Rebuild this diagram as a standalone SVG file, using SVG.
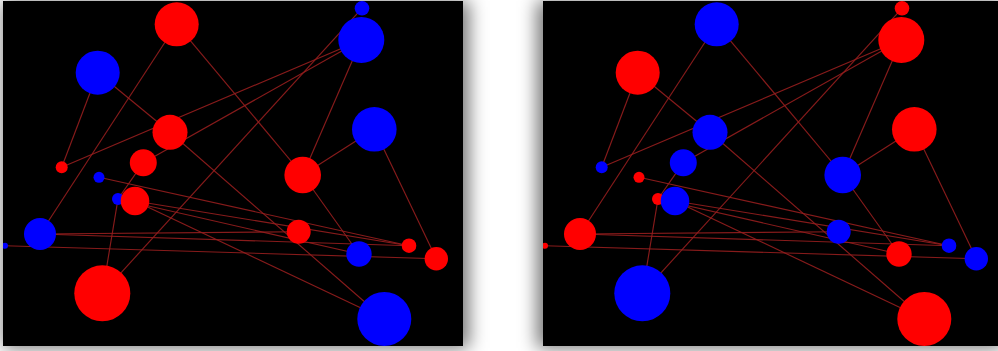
<svg xmlns="http://www.w3.org/2000/svg" width="998" height="351" viewBox="0 0 998 351">
<defs>
<style>
.link{stroke:#961e1e;stroke-width:1.15;fill:none;stroke-opacity:0.9}
.r{fill:#ff0000}
.b{fill:#0000ff}
.panel{fill:#000}
.shadow{fill:#000;fill-opacity:0.55}
</style>
<filter id="blur" x="-20%" y="-20%" width="140%" height="140%"><feGaussianBlur stdDeviation="9"/></filter>
<clipPath id="clipL"><rect x="3" y="1" width="460" height="345"/></clipPath>
<clipPath id="clipR"><rect x="543" y="1" width="460" height="345"/></clipPath>
</defs>
<rect width="998" height="351" fill="#fff"/>
<rect class="shadow" x="3" y="1" width="466" height="347" filter="url(#blur)"/>
<rect class="shadow" x="537" y="1" width="466" height="347" filter="url(#blur)"/>
<rect class="panel" x="3" y="1" width="460" height="345"/>
<rect class="panel" x="543" y="1" width="460" height="345"/>

<g id="left-panel" clip-path="url(#clipL)">
<g id="left-links" class="links">
<line class="link" x1="176.7" y1="24.3" x2="40" y2="234"/>
<line class="link" x1="176.7" y1="24.3" x2="302.7" y2="175"/>
<line class="link" x1="97.7" y1="72.7" x2="61.7" y2="167.3"/>
<line class="link" x1="97.7" y1="72.7" x2="170" y2="132.3"/>
<line class="link" x1="170" y1="132.3" x2="384.3" y2="319"/>
<line class="link" x1="61.7" y1="167.3" x2="361.3" y2="40"/>
<line class="link" x1="143.3" y1="162.7" x2="361.3" y2="40"/>
<line class="link" x1="143.3" y1="162.7" x2="118" y2="199"/>
<line class="link" x1="102.3" y1="293.3" x2="362" y2="8.3"/>
<line class="link" x1="102.3" y1="293.3" x2="118" y2="199"/>
<line class="link" x1="361.3" y1="40" x2="302.7" y2="175"/>
<line class="link" x1="302.7" y1="175" x2="374.3" y2="129.3"/>
<line class="link" x1="374.3" y1="129.3" x2="436.3" y2="258.7"/>
<line class="link" x1="302.7" y1="175" x2="359" y2="254"/>
<line class="link" x1="99" y1="177.3" x2="409" y2="245.7"/>
<line class="link" x1="135" y1="201" x2="409" y2="245.7"/>
<line class="link" x1="135" y1="201" x2="384.3" y2="319"/>
<line class="link" x1="118" y1="199" x2="359" y2="254"/>
<line class="link" x1="40" y1="234" x2="298.7" y2="231.7"/>
<line class="link" x1="40" y1="234" x2="409" y2="245.7"/>
<line class="link" x1="5" y1="245.7" x2="436.3" y2="258.7"/>
</g>
<g id="L-A"><circle class="r" cx="176.7" cy="24.3" r="22"/></g>
<g id="L-B"><circle class="b" cx="97.7" cy="72.7" r="22"/></g>
<g id="L-C"><circle class="r" cx="170" cy="132.3" r="17.5"/></g>
<g id="L-D"><circle class="r" cx="143.3" cy="162.7" r="13.5"/></g>
<g id="L-E"><circle class="r" cx="61.7" cy="167.3" r="6"/></g>
<g id="L-F"><circle class="b" cx="99" cy="177.3" r="5.5"/></g>
<g id="L-G"><circle class="b" cx="362" cy="8.3" r="7.3"/></g>
<g id="L-H"><circle class="b" cx="361.3" cy="40" r="23"/></g>
<g id="L-I"><circle class="b" cx="374.3" cy="129.3" r="22.3"/></g>
<g id="L-J"><circle class="r" cx="302.7" cy="175" r="18.3"/></g>
<g id="L-K"><circle class="b" cx="118" cy="199" r="6"/></g>
<g id="L-L"><circle class="r" cx="135" cy="201" r="14.3"/></g>
<g id="L-M"><circle class="b" cx="40" cy="234" r="16"/></g>
<g id="L-N"><circle class="b" cx="5" cy="245.7" r="3"/></g>
<g id="L-O"><circle class="r" cx="102.3" cy="293.3" r="28"/></g>
<g id="L-P"><circle class="r" cx="298.7" cy="231.7" r="12"/></g>
<g id="L-Q"><circle class="r" cx="409" cy="245.7" r="7.3"/></g>
<g id="L-R"><circle class="b" cx="359" cy="254" r="12.7"/></g>
<g id="L-S"><circle class="r" cx="436.3" cy="258.7" r="11.7"/></g>
<g id="L-T"><circle class="b" cx="384.3" cy="319" r="27"/></g>
</g>

<g id="right-panel" clip-path="url(#clipR)">
<g transform="translate(540,0)">
<g id="right-links" class="links">
<line class="link" x1="176.7" y1="24.3" x2="40" y2="234"/>
<line class="link" x1="176.7" y1="24.3" x2="302.7" y2="175"/>
<line class="link" x1="97.7" y1="72.7" x2="61.7" y2="167.3"/>
<line class="link" x1="97.7" y1="72.7" x2="170" y2="132.3"/>
<line class="link" x1="170" y1="132.3" x2="384.3" y2="319"/>
<line class="link" x1="61.7" y1="167.3" x2="361.3" y2="40"/>
<line class="link" x1="143.3" y1="162.7" x2="361.3" y2="40"/>
<line class="link" x1="143.3" y1="162.7" x2="118" y2="199"/>
<line class="link" x1="102.3" y1="293.3" x2="362" y2="8.3"/>
<line class="link" x1="102.3" y1="293.3" x2="118" y2="199"/>
<line class="link" x1="361.3" y1="40" x2="302.7" y2="175"/>
<line class="link" x1="302.7" y1="175" x2="374.3" y2="129.3"/>
<line class="link" x1="374.3" y1="129.3" x2="436.3" y2="258.7"/>
<line class="link" x1="302.7" y1="175" x2="359" y2="254"/>
<line class="link" x1="99" y1="177.3" x2="409" y2="245.7"/>
<line class="link" x1="135" y1="201" x2="409" y2="245.7"/>
<line class="link" x1="135" y1="201" x2="384.3" y2="319"/>
<line class="link" x1="118" y1="199" x2="359" y2="254"/>
<line class="link" x1="40" y1="234" x2="298.7" y2="231.7"/>
<line class="link" x1="40" y1="234" x2="409" y2="245.7"/>
<line class="link" x1="5" y1="245.7" x2="436.3" y2="258.7"/>
</g>
<g id="R-A"><circle class="b" cx="176.7" cy="24.3" r="22"/></g>
<g id="R-B"><circle class="r" cx="97.7" cy="72.7" r="22"/></g>
<g id="R-C"><circle class="b" cx="170" cy="132.3" r="17.5"/></g>
<g id="R-D"><circle class="b" cx="143.3" cy="162.7" r="13.5"/></g>
<g id="R-E"><circle class="b" cx="61.7" cy="167.3" r="6"/></g>
<g id="R-F"><circle class="r" cx="99" cy="177.3" r="5.5"/></g>
<g id="R-G"><circle class="r" cx="362" cy="8.3" r="7.3"/></g>
<g id="R-H"><circle class="r" cx="361.3" cy="40" r="23"/></g>
<g id="R-I"><circle class="r" cx="374.3" cy="129.3" r="22.3"/></g>
<g id="R-J"><circle class="b" cx="302.7" cy="175" r="18.3"/></g>
<g id="R-K"><circle class="r" cx="118" cy="199" r="6"/></g>
<g id="R-L"><circle class="b" cx="135" cy="201" r="14.3"/></g>
<g id="R-M"><circle class="r" cx="40" cy="234" r="16"/></g>
<g id="R-N"><circle class="r" cx="5" cy="245.7" r="3"/></g>
<g id="R-O"><circle class="b" cx="102.3" cy="293.3" r="28"/></g>
<g id="R-P"><circle class="b" cx="298.7" cy="231.7" r="12"/></g>
<g id="R-Q"><circle class="b" cx="409" cy="245.7" r="7.3"/></g>
<g id="R-R"><circle class="r" cx="359" cy="254" r="12.7"/></g>
<g id="R-S"><circle class="b" cx="436.3" cy="258.7" r="11.7"/></g>
<g id="R-T"><circle class="r" cx="384.3" cy="319" r="27"/></g>
</g>
</g>
</svg>
